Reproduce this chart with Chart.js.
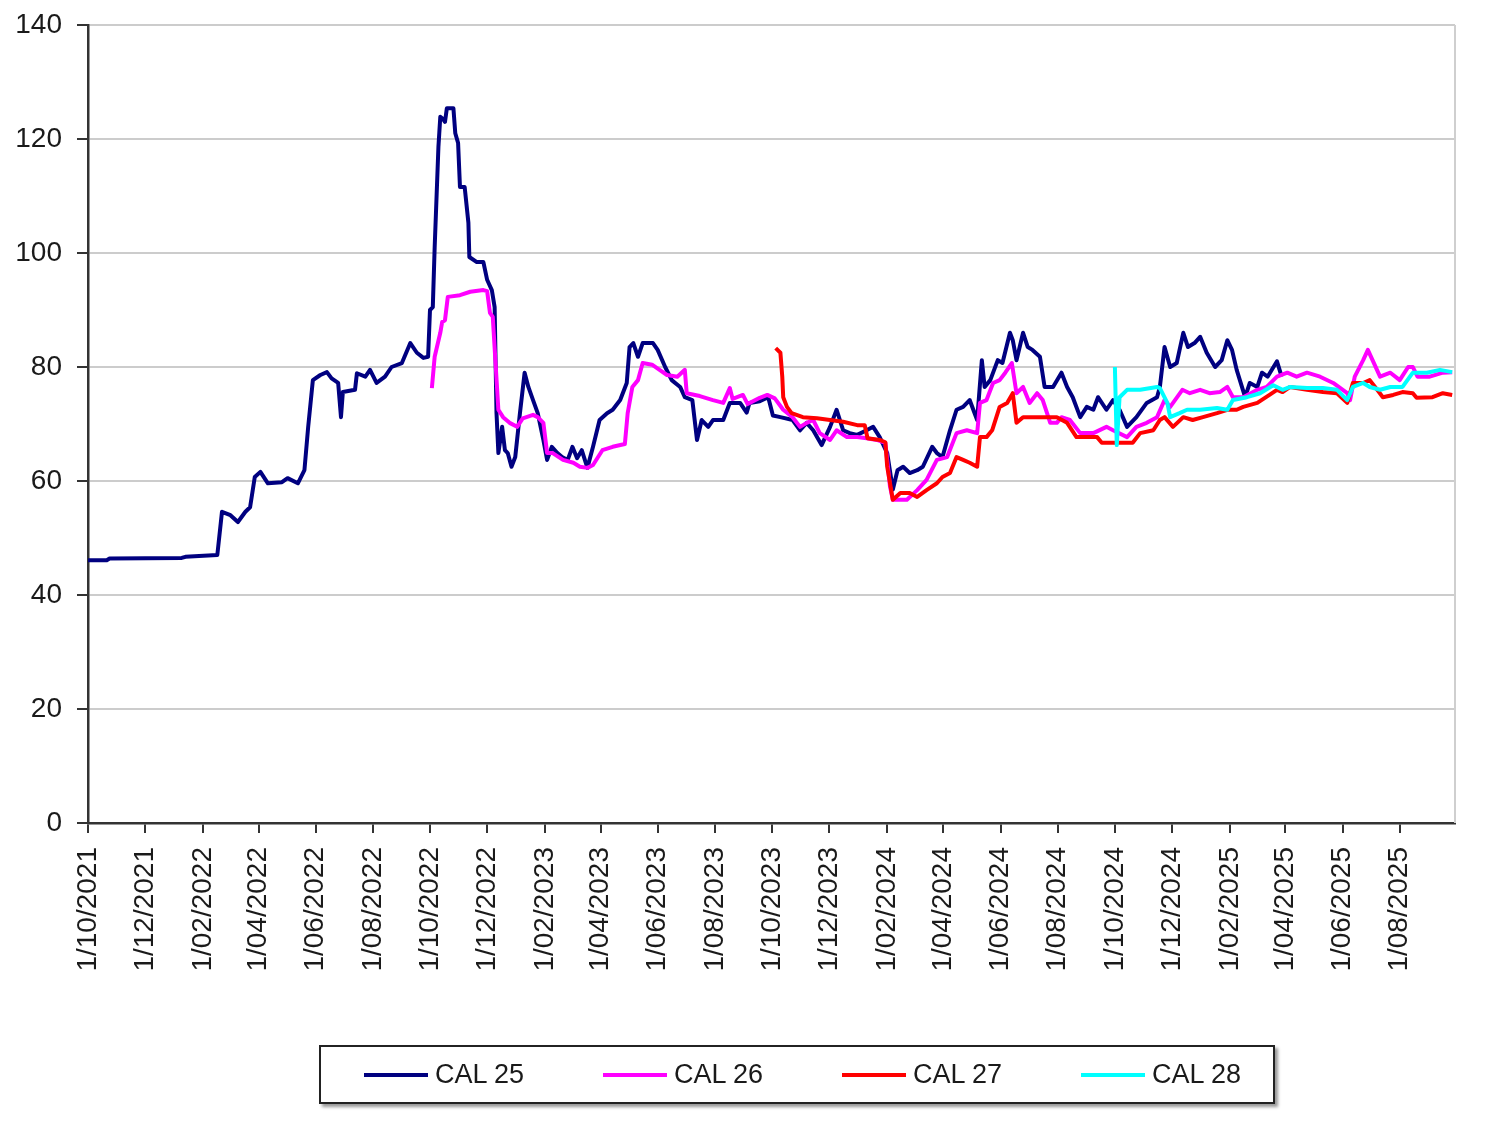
<!DOCTYPE html>
<html>
<head>
<meta charset="utf-8">
<script src="https://cdn.jsdelivr.net/npm/chart.js@4.4.1/dist/chart.umd.min.js"></script>
<style>
  html, body { margin: 0; padding: 0; background: #fff; }
  #wrap { position: relative; width: 1488px; height: 1126px; }
  #chart { position: absolute; left: 0; top: 0; }
  #legend {
    position: absolute; left: 319px; top: 1045px; width: 909px; height: 55px;
    border: 2px solid #222; box-shadow: 3px 3px 3px #999; background: #fff;
    display: flex; align-items: center; padding-left: 43px; box-sizing: content-box;
    font-family: "Liberation Sans", Arial, sans-serif; font-size: 27px; color: #1a1a1a;
  }
  #legend .item { width: 239px; flex-shrink: 0; display: flex; align-items: center; }
  #legend .swatch { width: 64px; height: 4px; margin-right: 7px; }
</style>
</head>
<body>
<div id="wrap">
  <canvas id="chart" width="1488" height="1126"></canvas>
  <div id="legend"></div>
</div>
<script>
// --- DATA (x = days since 1/10/2021) ---
const seriesNames = ['CAL 25', 'CAL 26', 'CAL 27', 'CAL 28'];
const seriesColors = ['#000080', '#FF00FF', '#FF0000', '#00FFFF'];
const yTicks = [0, 20, 40, 60, 80, 100, 120, 140];

const cal25Day = [0, 20, 23, 100, 104, 138, 143, 152, 160, 168, 173, 178, 184, 192, 207, 213, 224, 231, 235, 240,
  248, 255, 260, 267, 270, 272, 285, 287, 296, 301, 308, 317, 324, 335, 344, 351, 358, 363, 365, 368,
  370, 374, 376, 379, 381, 383, 390, 392, 395, 397, 402, 406, 407, 415, 422, 426, 431, 434, 436, 438,
  442, 445, 448, 452, 456, 461, 466, 470, 475, 480, 486, 490, 495, 501, 506, 512, 517, 522, 527, 533,
  539, 546, 554, 560, 568, 575, 578, 582, 587, 592, 603, 608, 616, 623, 632, 637, 645, 650, 655, 662,
  667, 678, 685, 696, 703, 706, 717, 726, 731, 739, 752, 760, 767, 774, 783, 792, 799, 806, 813, 821,
  831, 838, 845, 853, 859, 864, 870, 877, 885, 891, 901, 906, 912, 920, 927, 934, 941, 949, 954, 957,
  963, 971, 976, 984, 987, 991, 998, 1003, 1008, 1016, 1021, 1030, 1039, 1045, 1051, 1059, 1066, 1073, 1078, 1087,
  1094, 1101, 1109, 1119, 1130, 1141, 1144, 1149, 1155, 1162, 1169, 1174, 1181, 1187, 1194, 1203, 1210, 1216, 1221, 1226,
  1235, 1240, 1248, 1253, 1259, 1269, 1274];
const cal25Val = [46.1, 46.1, 46.4, 46.5, 46.7, 47, 54.6, 54, 52.8, 54.6, 55.4, 60.7, 61.6, 59.6, 59.8, 60.5, 59.6, 61.9, 69.5, 77.7,
  78.6, 79.1, 78, 77.2, 71.2, 75.6, 76, 78.9, 78.3, 79.5, 77.2, 78.3, 80, 80.7, 84.2, 82.5, 81.6, 81.8, 90, 90.5,
  101, 118.6, 123.9, 123.5, 123, 125.4, 125.4, 121, 119.3, 111.6, 111.6, 105.3, 99.3, 98.4, 98.4, 95.3, 93.5, 90.5, 71.9, 64.9,
  69.5, 65.4, 64.9, 62.5, 64.2, 71.9, 79, 76.5, 74.2, 71.9, 67.2, 63.7, 66, 64.9, 64.2, 63.7, 66, 64, 65.4, 62.3,
  66, 70.7, 71.9, 72.5, 74.2, 77.2, 83.5, 84.2, 81.8, 84.2, 84.2, 83, 80, 77.7, 76.5, 74.7, 74.2, 67.2, 70.7, 69.5,
  70.7, 70.7, 73.7, 73.7, 72, 73.7, 74, 74.7, 71.5, 71.2, 70.7, 68.9, 70.2, 68.9, 66.3, 69.5, 72.5, 68.9, 68.4, 68.1,
  68.9, 69.5, 67.7, 64.9, 58.5, 61.9, 62.5, 61.4, 61.9, 62.5, 66, 64.9, 64.2, 68.9, 72.5, 73, 74.2, 70.7, 81.2, 76.5,
  77.7, 81.2, 80.7, 86, 84.7, 81.2, 86, 83.5, 83, 81.8, 76.5, 76.5, 79, 76.5, 74.7, 71.2, 73, 72.5, 74.7, 72.5,
  74.2, 72.5, 69.5, 71.2, 73.7, 74.7, 76.5, 83.5, 80, 80.7, 86, 83.5, 84.2, 85.3, 82.5, 80, 81.2, 84.7, 83, 79.5,
  74.7, 77.2, 76.5, 79, 78.3, 81, 78.3];

const cal26Day = [367, 370, 376, 378, 381, 384, 397, 408, 422, 426, 429, 432, 438, 443, 450, 458, 464, 475, 480, 486,
  490, 496, 507, 518, 525, 533, 539, 549, 560, 573, 576, 581, 587, 592, 602, 610, 618, 629, 637, 639,
  653, 667, 678, 685, 688, 699, 704, 717, 725, 733, 742, 752, 760, 767, 774, 781, 792, 799, 810, 821,
  831, 842, 851, 856, 859, 874, 885, 895, 906, 917, 927, 938, 949, 952, 959, 966, 973, 979, 986, 991,
  998, 1005, 1013, 1019, 1027, 1034, 1039, 1048, 1059, 1073, 1087, 1094, 1109, 1119, 1130, 1141, 1149, 1155, 1168, 1176,
  1187, 1197, 1208, 1216, 1222, 1233, 1248, 1258, 1269, 1280, 1290, 1301, 1315, 1329, 1344, 1347, 1352, 1361, 1366, 1371,
  1379, 1390, 1400, 1409, 1414, 1419, 1432, 1446, 1456];
const cal26Val = [76.3, 81.8, 86, 87.9, 88.2, 92.3, 92.6, 93.2, 93.5, 93.3, 89.5, 88.8, 72.5, 71.2, 70.2, 69.5, 71, 71.6, 71.2, 70.2,
  64.9, 64.9, 63.7, 63.2, 62.5, 62.3, 62.8, 65.4, 66, 66.5, 71.9, 76.5, 77.7, 80.7, 80.4, 79.5, 78.6, 78.3, 79.5, 75.4,
  74.9, 74.2, 73.7, 76.3, 74.4, 75.1, 73.5, 74.6, 75.1, 74.5, 72.5, 71.2, 69.5, 70.2, 70.7, 68.4, 67.2, 68.9, 67.7, 67.7,
  67.5, 67.2, 66.7, 59, 56.7, 56.7, 58.4, 60.2, 63.7, 64.2, 68.4, 68.9, 68.4, 73.7, 74.2, 77.2, 77.7, 79, 80.7, 75.4,
  76.5, 73.7, 75.4, 74.2, 70.2, 70.2, 71.2, 70.7, 68.4, 68.4, 69.5, 68.9, 67.7, 69.5, 70.2, 71.2, 74.2, 73, 76, 75.4,
  76, 75.4, 75.6, 76.5, 74.7, 74.7, 76, 76.5, 78.3, 79, 78.3, 79, 78.3, 77.2, 75.4, 74.2, 78.3, 81.2, 83, 81.2,
  78.3, 79, 77.7, 80, 80, 78.3, 78.3, 79, 79.1];

const cal27Day = [734, 739, 741, 742, 746, 751, 763, 778, 792, 806, 821, 829, 832, 845, 851, 853, 856, 859, 867, 877,
  885, 895, 906, 912, 920, 927, 934, 941, 949, 952, 959, 965, 973, 981, 987, 991, 998, 1034, 1045, 1055,
  1077, 1082, 1115, 1123, 1137, 1144, 1149, 1158, 1169, 1179, 1190, 1205, 1216, 1226, 1233, 1248, 1261, 1269, 1275, 1283,
  1301, 1318, 1333, 1344, 1350, 1361, 1368, 1376, 1382, 1393, 1403, 1414, 1418, 1435, 1446, 1456];
const cal27Val = [83.3, 82.5, 78.3, 74.7, 73, 71.9, 71.2, 71, 70.7, 70.4, 69.8, 69.8, 67.5, 67.2, 66.8, 62.5, 59.6, 56.7, 57.9, 57.9,
  57.2, 58.4, 59.6, 60.7, 61.4, 64.2, 63.7, 63.2, 62.5, 67.7, 67.7, 68.9, 73, 73.7, 75.4, 70.2, 71.2, 71.2, 70.2, 67.7,
  67.7, 66.7, 66.7, 68.4, 68.9, 70.7, 71.2, 69.5, 71.2, 70.7, 71.2, 71.9, 72.5, 72.5, 73, 73.7, 75.1, 76, 75.6, 76.5,
  76, 75.6, 75.4, 73.7, 77.2, 77.2, 77.7, 76, 74.7, 75.1, 75.6, 75.4, 74.6, 74.7, 75.4, 75.1];

const cal28Day = [1096, 1098, 1101, 1109, 1123, 1141, 1144, 1152, 1155, 1165, 1173, 1187, 1205, 1216, 1222, 1237, 1251, 1265, 1275, 1283,
  1301, 1318, 1333, 1344, 1350, 1361, 1368, 1379, 1390, 1403, 1414, 1429, 1443, 1456];
const cal28Val = [80, 66.3, 74.7, 76, 76, 76.5, 76.3, 73.7, 71.2, 71.9, 72.5, 72.5, 72.8, 72.5, 74.2, 74.7, 75.4, 76.8, 76, 76.5,
  76.3, 76.3, 76, 74.2, 76.5, 77.2, 76.5, 76, 76.5, 76.5, 79, 79, 79.5, 79.1];

// --- X TICKS: first of every second month ---
const startUTC = Date.UTC(2021, 9, 1);
const xMax = 1459;
const monthTicks = [];
for (let m = 0; ; m += 2) {
  const d = (Date.UTC(2021, 9 + m, 1) - startUTC) / 86400000;
  if (d > xMax) break;
  monthTicks.push(d);
}
function dayLabel(v) {
  const dt = new Date(startUTC + v * 86400000);
  const mm = String(dt.getUTCMonth() + 1).padStart(2, '0');
  return '1/' + mm + '/' + dt.getUTCFullYear();
}

function toPoints(days, vals) {
  return days.map((d, i) => ({ x: d, y: vals[i] }));
}

const allDays = [cal25Day, cal26Day, cal27Day, cal28Day];
const allVals = [cal25Val, cal26Val, cal27Val, cal28Val];

const datasets = seriesNames.map((name, i) => ({
  label: name,
  data: toPoints(allDays[i], allVals[i]),
  borderColor: seriesColors[i],
  backgroundColor: seriesColors[i],
  borderWidth: 4,
  borderJoinStyle: 'round',
  pointRadius: 0,
  tension: 0,
  order: 4 - i
}));

// right-hand plot border
const plotBorder = {
  id: 'plotBorder',
  afterDraw(chart) {
    const { ctx, chartArea } = chart;
    ctx.save();
    ctx.strokeStyle = '#cfcfcf';
    ctx.lineWidth = 2;
    ctx.beginPath();
    ctx.moveTo(chartArea.right, chartArea.top);
    ctx.lineTo(chartArea.right, chartArea.bottom);
    ctx.stroke();
    ctx.restore();
  }
};

const fontFamily = '"Liberation Sans", Arial, sans-serif';

new Chart(document.getElementById('chart'), {
  type: 'line',
  data: { datasets },
  plugins: [plotBorder],
  options: {
    responsive: false,
    animation: false,
    layout: { padding: { top: 25, right: 33, left: 0, bottom: 0 } },
    plugins: { legend: { display: false }, tooltip: { enabled: false } },
    scales: {
      x: {
        type: 'linear',
        min: 0,
        max: xMax,
        afterBuildTicks: (scale) => { scale.ticks = monthTicks.map(v => ({ value: v })); },
        afterFit: (scale) => { scale.height = 303; },
        ticks: {
          autoSkip: false,
          minRotation: 90,
          maxRotation: 90,
          padding: 14,
          color: '#1a1a1a',
          font: { family: fontFamily, size: 28 },
          callback: (v) => dayLabel(v)
        },
        grid: { drawOnChartArea: false, tickLength: 10, tickColor: '#333', lineWidth: 2 },
        border: { color: '#333', width: 2.5 }
      },
      y: {
        min: 0,
        max: 140,
        afterBuildTicks: (scale) => { scale.ticks = yTicks.map(v => ({ value: v })); },
        afterFit: (scale) => { scale.width = 88; scale.paddingTop = 0; scale.paddingBottom = 0; },
        ticks: { padding: 15, color: '#1a1a1a', font: { family: fontFamily, size: 28 } },
        grid: { color: '#cccccc', lineWidth: 2, tickLength: 11, tickColor: '#333' },
        border: { color: '#333', width: 2.5 }
      }
    }
  }
});

// --- HTML LEGEND ---
const legend = document.getElementById('legend');
seriesNames.forEach((name, i) => {
  const item = document.createElement('div');
  item.className = 'item';
  item.innerHTML = `<span class="swatch" style="background:${seriesColors[i]}"></span><span>${name}</span>`;
  legend.appendChild(item);
});
</script>
</body>
</html>
